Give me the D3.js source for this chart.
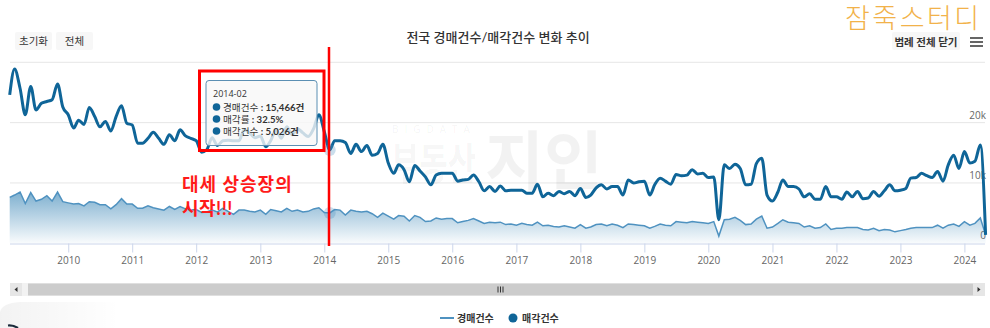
<!DOCTYPE html>
<html><head><meta charset="utf-8">
<script src="https://cdn.jsdelivr.net/npm/d3@7/dist/d3.min.js"></script>
<style>
html,body{margin:0;padding:0;background:#fff;}
svg{display:block;font-family:Lato,"Noto Sans CJK KR","Noto Sans",sans-serif;}
</style></head>
<body><svg id="c" width="990" height="328"></svg>
<script>
// ---- data ----
const startMonth = "2009-02";
const endMonth = "2024-05";
const yearTicks = [2010,2011,2012,2013,2014,2015,2016,2017,2018,2019,2020,2021,2022,2023,2024];
const yTickValues = [0,10000,20000,30000];
const yTickLabels = ["0","10k","20k",""];
const seriesNames = ["경매건수","매각건수"];
// 경매건수 (thousands)
const auctionK = [
24.6,28.9,25.7,21.3,26.0,22.1,23.2,23.5,23.8,26.4,22.6,
21.3,19.1,20.4,19.7,22.5,21.0,19.3,20.2,18.6,21.0,22.8,19.9,
19.6,16.6,16.6,17.4,18.4,17.4,16.4,18.0,17.0,18.8,17.8,17.4,
17.0,15.1,15.5,17.5,16.2,17.0,17.1,17.0,17.0,18.8,18.3,17.5,
17.8,16.0,17.0,18.8,17.4,19.3,18.0,19.0,18.3,17.7,19.0,21.3,
18.5,15.466,17.0,17.0,16.7,14.9,16.4,15.2,16.2,14.6,14.9,16.4,
13.3,11.6,13.0,12.2,10.2,12.9,12.0,11.0,9.7,11.3,11.6,11.6,
11.6,10.3,10.5,10.6,11.3,10.2,8.7,9.4,8.6,9.5,8.7,8.8,
8.8,8.8,8.3,8.3,9.8,7.7,8.3,7.9,8.6,8.2,8.6,7.9,
9.1,7.6,8.0,9.2,9.7,9.0,9.4,9.4,8.0,10.5,10.0,10.2,
10.3,8.0,9.7,10.8,10.3,9.8,11.4,11.2,11.3,12.2,11.5,11.6,
10.9,11.0,3.9,13.0,12.4,13.1,12.4,9.7,9.8,13.2,14.1,8.0,
7.0,8.5,10.5,9.4,9.4,9.0,7.7,8.2,7.3,7.3,9.4,7.7,
7.7,7.3,8.5,7.7,8.6,7.4,7.5,8.6,7.8,8.7,9.7,8.7,
8.8,9.1,10.8,10.9,11.6,11.2,10.9,11.9,10.3,13.0,14.6,12.4,
15.2,13.3,13.6,16.3,1.4
];
// 매각건수 (thousands)
const soldK = [
7.6,8.0,8.5,6.6,8.4,7.0,7.3,7.9,7.0,8.5,6.9,
6.7,6.5,6.6,6.2,6.9,6.8,6.4,6.4,5.7,6.4,7.4,6.5,
6.5,5.8,5.8,6.2,5.9,5.7,5.5,6.1,5.6,6.1,5.7,5.5,
5.6,5.1,5.2,5.5,5.2,5.8,5.3,4.8,5.5,5.5,5.3,5.2,
5.5,4.8,5.6,5.4,5.2,5.8,5.3,5.5,5.2,5.3,5.7,5.9,
5.1,5.026,5.6,5.5,4.7,5.5,5.3,5.2,5.3,4.9,4.3,5.0,
4.5,4.0,4.6,4.5,3.7,4.6,4.3,3.6,3.7,4.2,4.0,4.1,
4.1,3.4,3.6,3.8,4.1,3.7,3.3,3.5,3.4,3.5,3.1,3.2,
3.0,3.3,3.1,3.0,3.5,2.9,3.0,2.8,2.7,2.9,2.7,2.5,
3.1,2.5,2.7,3.1,3.2,2.9,3.2,3.0,2.6,3.2,3.1,3.0,
2.9,2.5,2.8,3.2,3.0,2.9,3.6,3.5,3.4,3.6,3.5,3.4,
3.3,3.6,1.2,3.9,4.0,4.3,3.8,3.1,3.2,4.0,4.5,2.5,
2.7,3.3,3.9,3.5,3.4,3.3,2.7,2.9,2.5,2.6,3.2,2.3,
2.5,2.5,2.6,2.6,2.6,2.3,2.2,2.5,2.1,2.3,2.2,1.9,
2.1,2.3,2.5,2.6,2.6,2.6,2.6,3.0,2.5,3.0,3.2,2.8,
3.6,3.0,3.3,4.2,1.4
];
const tooltipTitle = "2014-02";
const tooltipRows = [["경매건수"," : ","15,466건"],["매각률"," : ","32.5%"],["매각건수"," : ","5,026건"]];
const highlightMonth = "2014-02";

// ---- chart ----
const svg = d3.select("#c");
const parse = d3.timeParse("%Y-%m");
const months = d3.timeMonth.range(parse(startMonth), d3.timeMonth.offset(parse(endMonth),1));
const auction = months.map((d,i)=>({d, v: auctionK[i]*1000}));
const sold = months.map((d,i)=>({d, v: soldK[i]*1000}));

const x = d3.scaleTime().domain([parse(startMonth), parse(endMonth)]).range([9.7, 985.6]);
const y = d3.scaleLinear().domain([0,30000]).range([243.3, 62.3]);
const plotL = 10, plotR = 985;

const defs = svg.append("defs");
const grad = defs.append("linearGradient").attr("id","ag");
grad.append("stop").attr("offset","0%").attr("stop-color","#2f7fb2").attr("stop-opacity",0.62);
grad.append("stop").attr("offset","100%").attr("stop-color","#2f7fb2").attr("stop-opacity",0.03);
const sh = defs.append("linearGradient").attr("id","sh").attr("x1",0).attr("y1",0).attr("x2",1).attr("y2",0);
sh.append("stop").attr("offset","0%").attr("stop-color","#000").attr("stop-opacity",0.05);
sh.append("stop").attr("offset","100%").attr("stop-color","#000").attr("stop-opacity",0);

// bottom-left overlay shadow
svg.append("path").attr("d","M0,328V312Q2,303 20,302H120V328Z").attr("fill","url(#sh)");
svg.append("path").attr("d","M8,325.5Q13,325 18,328").attr("fill","none").attr("stroke","#1a2a3a").attr("stroke-width",2.2);

// gridlines + right labels
const yAxis = d3.axisRight(y).tickValues(yTickValues).tickSize(0).tickFormat((d,i)=>yTickLabels[i]);
const ga = svg.append("g").attr("transform",`translate(${plotR},0)`).call(yAxis);
ga.select(".domain").remove();
ga.selectAll("text").attr("x",1).attr("dy","-0.45em").attr("text-anchor","end")
  .attr("fill","#666").style("font-size","10px").style("font-family","'Open Sans','Noto Sans',sans-serif");
svg.append("g").selectAll("line").data(yTickValues.slice(1)).join("line")
  .attr("x1",plotL).attr("x2",plotR).attr("y1",d=>y(d)).attr("y2",d=>y(d))
  .attr("stroke","#e6e6e6").attr("stroke-width",1);

// watermark
const wm = svg.append("g").attr("fill","#000").attr("fill-opacity",0.05);
wm.append("text").attr("x",392).attr("y",133).style("font-size","10px").style("letter-spacing","6px")
  .style("font-family","'Open Sans',sans-serif").text("BIGDATA");
wm.append("text").attr("transform","translate(391,180) scale(0.7,1)").style("font-size","44px").style("font-weight",700).text("부동산");
wm.append("text").attr("x",485).attr("y",184).style("font-size","64px").style("font-weight",700).text("지인");

// x axis
const xAxis = d3.axisBottom(x).tickValues(yearTicks.map(yv=>new Date(yv,0,1))).tickFormat(d3.timeFormat("%Y")).tickSize(9).tickPadding(4);
const gx = svg.append("g").attr("transform","translate(0,243.5)").call(xAxis);
gx.select(".domain").attr("d",`M${plotL},0.5H${plotR}`).attr("stroke","#ccd6eb");
gx.selectAll(".tick line").attr("stroke","#ccd6eb");
gx.selectAll("text").attr("fill","#666").style("font-size","10px").style("font-family","'Open Sans','Noto Sans',sans-serif");

// area series
const area = d3.area().x(d=>x(d.d)).y0(y(0)).y1(d=>y(d.v)).curve(d3.curveLinear);
const yTop = y(d3.max(sold,d=>d.v));
grad.attr("gradientUnits","userSpaceOnUse").attr("x1",0).attr("x2",0).attr("y1",yTop).attr("y2",y(0));
svg.append("path").datum(sold).attr("d",area).attr("fill","url(#ag)");
svg.append("path").datum(sold).attr("d",d3.line().x(d=>x(d.d)).y(d=>y(d.v)))
  .attr("fill","none").attr("stroke","#4f92c0").attr("stroke-width",1.5);

// thick spline
svg.append("path").datum(auction).attr("d",d3.line().x(d=>x(d.d)).y(d=>y(d.v)).curve(d3.curveMonotoneX))
  .attr("fill","none").attr("stroke","#0f6598").attr("stroke-width",3).attr("stroke-linejoin","round");

// hover halos
const hi = months.findIndex(d=>d3.timeFormat("%Y-%m")(d)===highlightMonth);
[auction[hi], sold[hi]].forEach(p=>{
  svg.append("circle").attr("cx",x(p.d)).attr("cy",y(p.v)).attr("r",6).attr("fill","#4f92c0").attr("fill-opacity",0.3);
});

// tooltip
const tt = svg.append("g");
tt.append("rect").attr("x",206).attr("y",80.5).attr("width",111).attr("height",65).attr("rx",3)
  .attr("fill","#f7f7f7").attr("fill-opacity",0.8).attr("stroke","#5b8fb3").attr("stroke-width",1);
tt.append("text").attr("x",213).attr("y",97).attr("fill","#333").style("font-size","9px")
  .style("font-family","'Open Sans',sans-serif").text(tooltipTitle);
tooltipRows.forEach((r,i)=>{
  const yy = 107 + i*12;
  tt.append("circle").attr("cx",216.5).attr("cy",yy).attr("r",3.8).attr("fill","#0f6598");
  const t = tt.append("text").attr("x",223).attr("y",yy+3.6).attr("fill","#333").style("font-size","9.6px");
  t.append("tspan").text(r[0]);
  t.append("tspan").style("font-weight",700).text(r[1]+r[2]);
});

// red annotations
svg.append("rect").attr("x",199.5).attr("y",71).attr("width",124.5).attr("height",79.5)
  .attr("fill","none").attr("stroke","#ff0000").attr("stroke-width",3);
svg.append("line").attr("x1",329).attr("x2",329).attr("y1",47).attr("y2",246)
  .attr("stroke","#ff0000").attr("stroke-width",2.5);
svg.append("text").attr("x",182).attr("y",191).attr("fill","#ff1a1a").style("font-size","18px").style("letter-spacing","1px").style("font-weight",700).text("대세 상승장의");
svg.append("text").attr("x",182).attr("y",215).attr("fill","#ff1a1a").style("font-size","18px").style("letter-spacing","0.5px").style("font-weight",700).text("시작!!!");

// title & buttons
svg.append("text").attr("x",498).attr("y",42).attr("text-anchor","middle").attr("fill","#333")
  .style("font-size","13px").style("font-weight",500).text("전국 경매건수/매각건수 변화 추이");
[["초기화",15,37],["전체",56,37]].forEach(b=>{
  svg.append("rect").attr("x",b[1]).attr("y",32).attr("width",b[2]).attr("height",18).attr("rx",2).attr("fill","#f7f7f7");
  svg.append("text").attr("x",b[1]+b[2]/2).attr("y",45).attr("text-anchor","middle").attr("fill","#333")
    .style("font-size","10.5px").text(b[0]);
});
svg.append("rect").attr("x",892).attr("y",32).attr("width",68).attr("height",18).attr("rx",2).attr("fill","#f7f7f7");
svg.append("text").attr("x",926).attr("y",45.5).attr("text-anchor","middle").attr("fill","#333")
  .style("font-size","10.5px").style("font-weight",700).text("범례 전체 닫기");
[38,42,46].forEach(yy=>svg.append("line").attr("x1",970).attr("x2",983).attr("y1",yy).attr("y2",yy)
  .attr("stroke","#666").attr("stroke-width",2));

svg.append("text").attr("x",845).attr("y",28).attr("fill","#f2b24a").style("letter-spacing","2.5px")
  .style("font-size","27px").style("font-weight",300).text("잠죽스터디");

// scrollbar
svg.append("rect").attr("x",10).attr("y",283).attr("width",975).attr("height",13).attr("fill","#f2f2f2");
svg.append("rect").attr("x",10).attr("y",283).attr("width",12).attr("height",13).attr("fill","#e6e6e6");
svg.append("rect").attr("x",973).attr("y",283).attr("width",12).attr("height",13).attr("fill","#e6e6e6");
svg.append("rect").attr("x",28).attr("y",283.5).attr("width",945).attr("height",12).attr("fill","#cccccc");
svg.append("path").attr("d","M17.5,287L14.5,289.5L17.5,292Z").attr("fill","#333");
svg.append("path").attr("d","M977.5,287L980.5,289.5L977.5,292Z").attr("fill","#333");
[498,500.5,503].forEach(xx=>svg.append("line").attr("x1",xx).attr("x2",xx).attr("y1",286.5).attr("y2",292.5).attr("stroke","#333").attr("stroke-width",1));

// legend
svg.append("line").attr("x1",440).attr("x2",454).attr("y1",318).attr("y2",318).attr("stroke","#4f92c0").attr("stroke-width",2);
svg.append("text").attr("x",457).attr("y",321.5).attr("fill","#333").style("font-size","10px").style("font-weight",700).text(seriesNames[0]);
svg.append("circle").attr("cx",513).attr("cy",318).attr("r",4.5).attr("fill","#0f6598");
svg.append("text").attr("x",522).attr("y",321.5).attr("fill","#333").style("font-size","10px").style("font-weight",700).text(seriesNames[1]);
</script></body></html>
